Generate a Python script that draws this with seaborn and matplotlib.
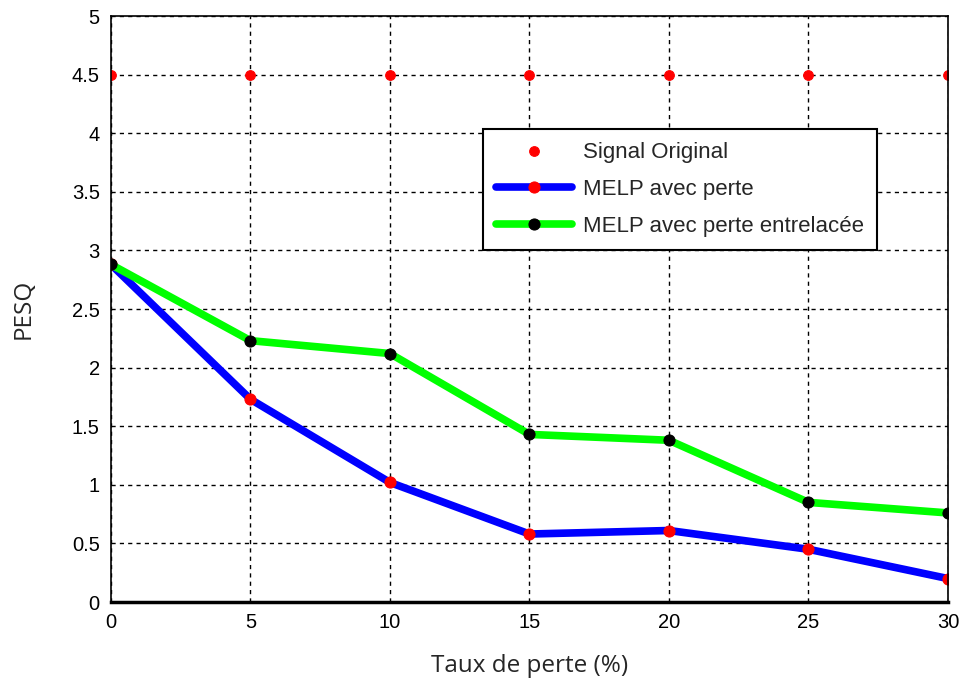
import numpy as np
import pandas as pd
import seaborn as sns
from matplotlib import pyplot as plt

taux = [0, 5, 10, 15, 20, 25, 30]
original = [4.5, 4.5, 4.5, 4.5, 4.5, 4.5, 4.5]
melp_perte = [2.88, 1.73, 1.02, 0.58, 0.61, 0.45, 0.20]
melp_entrelacee = [2.88, 2.23, 2.12, 1.43, 1.38, 0.85, 0.76]

df = pd.DataFrame({'taux': taux, 'orig': original,
                   'perte': melp_perte, 'entre': melp_entrelacee})

sns.set_style("white")
plt.rcParams['font.family'] = ['Liberation Sans', 'DejaVu Sans']

fig = plt.figure(figsize=(9.59, 6.81), dpi=100)
ax = fig.add_axes([0.1157, 0.116, 0.8728, 0.8605])

sns.lineplot(data=df, x='taux', y='orig', ax=ax, linestyle='none', marker='o',
             color='red', markersize=7, markeredgecolor='red', label='Signal Original')
sns.lineplot(data=df, x='taux', y='perte', ax=ax, color='blue', linewidth=5.5,
             marker='o', markersize=8, markerfacecolor='red', markeredgecolor='red',
             label='MELP avec perte')
sns.lineplot(data=df, x='taux', y='entre', ax=ax, color='#00ff00', linewidth=5.5,
             marker='o', markersize=8, markerfacecolor='black', markeredgecolor='black',
             label='MELP avec perte entrelacée')

ax.set_xlim(0, 30)
ax.set_ylim(0, 5)
ax.set_xticks(range(0, 31, 5))
ax.set_yticks(np.arange(0, 5.01, 0.5))
ax.set_yticklabels(['0', '0.5', '1', '1.5', '2', '2.5', '3', '3.5', '4', '4.5', '5'])
ax.grid(True, color='black', linestyle=(0, (3, 3)), linewidth=1)
ax.tick_params(direction='in', length=5, labelsize=14.5, colors='black', pad=8)
for s in ax.spines.values():
    s.set_color('black')
    s.set_linewidth(1.2)
ax.spines['bottom'].set_linewidth(2.5)

ax.set_xlabel('Taux de perte (%)', fontsize=17.5, family=['Open Sans', 'DejaVu Sans'], labelpad=16)
ax.set_ylabel('PESQ', fontsize=17.5, family=['Open Sans', 'DejaVu Sans'], labelpad=26)

leg = ax.legend(loc='upper left', bbox_to_anchor=(0.431, 0.826), fontsize=16,
                frameon=True, fancybox=False, edgecolor='black', framealpha=1,
                handlelength=3.4, borderpad=0.6, labelspacing=0.7, handletextpad=0.5)
leg.get_frame().set_linewidth(1.5)

plt.savefig('out.png', dpi=100)
